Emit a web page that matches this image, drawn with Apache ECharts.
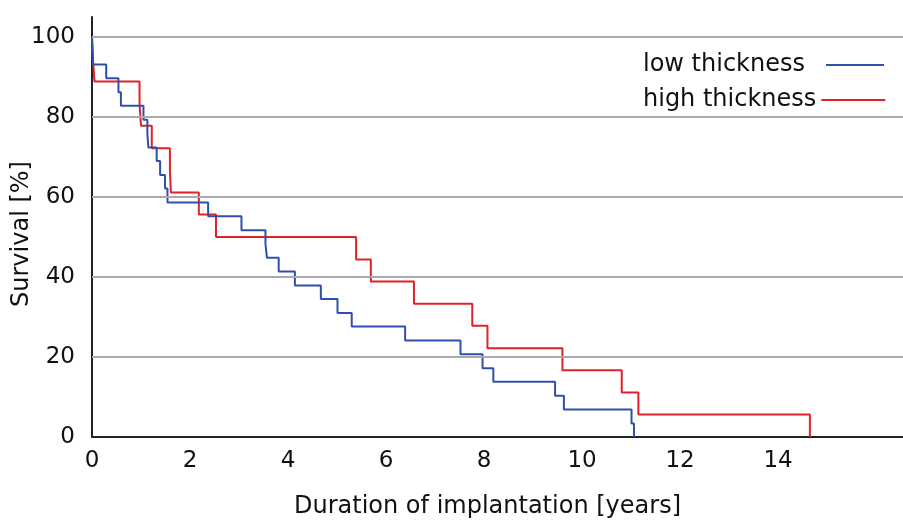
<!DOCTYPE html>
<html>
<head>
<meta charset="utf-8">
<script src="https://cdn.jsdelivr.net/npm/echarts@6/dist/echarts.min.js"></script>
<style>
  html, body { margin: 0; padding: 0; background: #fff; }
  #chart { width: 903px; height: 520px; }
</style>
</head>
<body>
<div id="chart"></div>
<script>
// Kaplan-Meier steps (time in years, survival in %)
var lowTimes = [0, 0.02, 0.29, 0.54, 0.59, 1.05, 1.13, 1.15, 1.32, 1.39, 1.49, 1.54, 2.37, 3.05, 3.54, 3.57, 3.81, 4.14, 4.67, 5.01, 5.30, 6.39, 7.52, 7.97, 8.19, 9.45, 9.63, 11.01, 11.06];
var lowSurv = [100, 93.1, 89.7, 86.2, 82.8, 79.3, 75.9, 72.4, 69.0, 65.5, 62.1, 58.6, 55.2, 51.7, 48.3, 44.8, 41.4, 37.9, 34.5, 31.0, 27.6, 24.1, 20.7, 17.2, 13.8, 10.3, 6.9, 3.4, 0];

var highTimes = [0, 0.02, 0.05, 0.97, 1.0, 1.22, 1.59, 1.61, 2.18, 2.53, 5.39, 5.69, 6.57, 7.76, 8.07, 9.60, 10.81, 11.15, 14.65];
var highSurv = [100, 94.4, 88.9, 83.3, 77.8, 72.2, 66.7, 61.1, 55.6, 50.0, 44.4, 38.9, 33.3, 27.8, 22.2, 16.7, 11.1, 5.6, 0];

var xTicks = [0, 2, 4, 6, 8, 10, 12, 14];
var yTicks = [0, 20, 40, 60, 80, 100];

var seriesNames = ['low thickness', 'high thickness'];

function pairs(xs, ys) {
    return xs.map(function (x, i) { return [x, ys[i]]; });
}

var font = 'DejaVu Sans';
var chart = echarts.init(document.getElementById('chart'));

var option = {
    animation: false,
    backgroundColor: '#ffffff',
    grid: { left: 92, right: 0, top: 17, bottom: 83, containLabel: false, outerBoundsMode: 'none' },
    legend: [
        {
            data: [seriesNames[0]],
            left: 638, top: 48,
            align: 'right',
            icon: 'rect', itemWidth: 58, itemHeight: 2,
            textStyle: { fontFamily: font, fontSize: 24, color: '#111', padding: [0, 16, 0, 0] }
        },
        {
            data: [seriesNames[1]],
            left: 638, top: 83,
            align: 'right',
            icon: 'rect', itemWidth: 64, itemHeight: 2,
            textStyle: { fontFamily: font, fontSize: 24, color: '#111' }
        }
    ],
    xAxis: {
        type: 'value',
        min: 0, max: 16.55, interval: 2,
        name: 'Duration of implantation [years]',
        nameLocation: 'middle',
        nameGap: 58,
        nameMoveOverlap: false,
        nameTextStyle: { fontFamily: font, fontSize: 24, color: '#111', padding: [0, 20, 0, 0] },
        axisLine: { show: true, lineStyle: { color: '#222', width: 2 } },
        axisTick: { show: false },
        splitLine: { show: false },
        axisLabel: {
            margin: 13,
            fontFamily: font, fontSize: 23, color: '#111',
            formatter: function (v) { return xTicks.indexOf(v) >= 0 ? String(v) : ''; }
        }
    },
    yAxis: {
        type: 'value',
        min: 0, max: 105, interval: 20,
        name: 'Survival [%]',
        nameLocation: 'middle',
        nameGap: 58,
        nameMoveOverlap: false,
        nameTextStyle: { fontFamily: font, fontSize: 24, color: '#111', padding: [0, 14, 0, 0] },
        axisLine: { show: true, lineStyle: { color: '#222', width: 2 } },
        axisTick: { show: false },
        splitLine: { show: false },
        axisLabel: {
            margin: 17,
            fontFamily: font, fontSize: 23, color: '#111',
            formatter: function (v) { return yTicks.indexOf(v) >= 0 ? String(v) : ''; }
        }
    },
    series: [
        {
            // horizontal grid lines
            name: 'grid',
            type: 'line',
            data: [],
            z: 1,
            silent: true,
            markLine: {
                silent: true,
                symbol: 'none',
                label: { show: false },
                lineStyle: { color: '#aaaaaa', width: 2, type: 'solid' },
                data: yTicks.filter(function (v) { return v > 0; }).map(function (v) { return { yAxis: v }; })
            }
        },
        {
            name: seriesNames[0],
            type: 'line',
            step: 'end',
            showSymbol: false,
            symbol: 'none',
            z: 3,
            color: '#2f4fad',
            lineStyle: { width: 2, color: '#2f4fad' },
            data: pairs(lowTimes, lowSurv)
        },
        {
            name: seriesNames[1],
            type: 'line',
            step: 'end',
            showSymbol: false,
            symbol: 'none',
            z: 2,
            color: '#e0202a',
            lineStyle: { width: 2, color: '#e0202a' },
            data: pairs(highTimes, highSurv)
        }
    ]
};

chart.setOption(option);
</script>
</body>
</html>
